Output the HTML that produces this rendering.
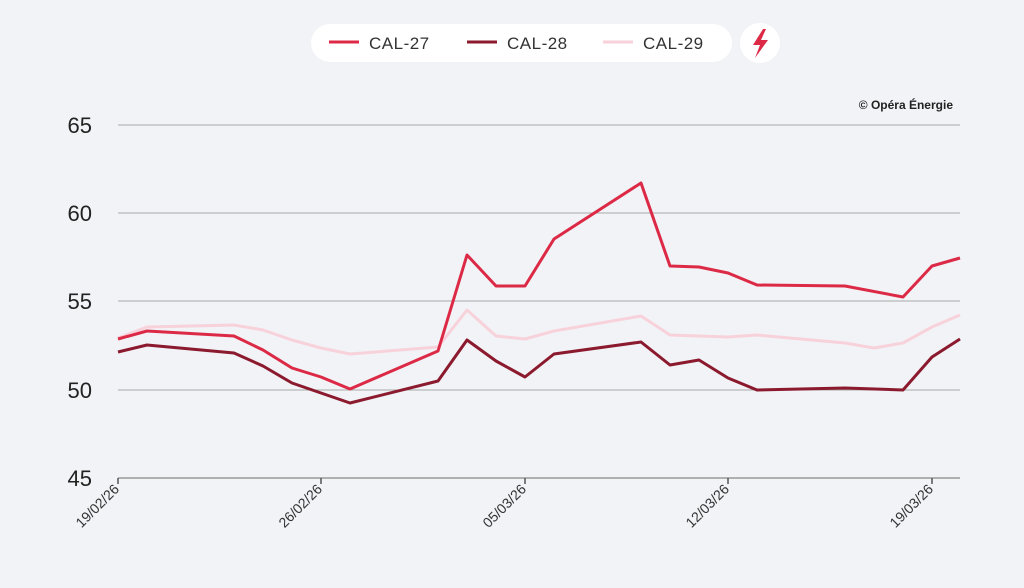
<!DOCTYPE html>
<html><head><meta charset="utf-8"><style>
body{margin:0;background:#f2f3f7;width:1024px;height:583px;overflow:hidden;font-family:"Liberation Sans",sans-serif}
</style></head><body>
<svg width="1024" height="583" xmlns="http://www.w3.org/2000/svg" font-family="Liberation Sans, sans-serif">
<rect width="1024" height="583" fill="#f2f3f7"/>
<rect x="311" y="24" width="421" height="38" rx="19" fill="#fff"/>
<line x1="329" y1="42" x2="359" y2="42" stroke="#dc2a46" stroke-width="3"/>
<text x="369" y="49" font-size="17" fill="#333" letter-spacing="0.5">CAL-27</text>
<line x1="467" y1="42" x2="497" y2="42" stroke="#8b1a2e" stroke-width="3"/>
<text x="507" y="49" font-size="17" fill="#333" letter-spacing="0.5">CAL-28</text>
<line x1="603" y1="42" x2="633" y2="42" stroke="#f8d2da" stroke-width="3"/>
<text x="643" y="49" font-size="17" fill="#333" letter-spacing="0.5">CAL-29</text>
<circle cx="760" cy="43" r="20" fill="#fff"/>
<path d="M763 29 L753 45 L760 45 L755 58 L768 40 L761 40 L766 29 Z" fill="#dc2a46"/>
<text x="953" y="109" font-size="12" font-weight="bold" fill="#222" text-anchor="end">© Opéra Énergie</text>
<g stroke="#a8a8a8" stroke-width="1">
<line x1="118" y1="125" x2="960" y2="125"/><line x1="118" y1="213" x2="960" y2="213"/>
<line x1="118" y1="301" x2="960" y2="301"/><line x1="118" y1="390" x2="960" y2="390"/>
</g>
<line x1="118" y1="478" x2="960" y2="478" stroke="#999" stroke-width="1.5"/>
<g stroke="#555" stroke-width="1.5">
<line x1="118" y1="478" x2="118" y2="484"/><line x1="321" y1="478" x2="321" y2="484"/>
<line x1="525" y1="478" x2="525" y2="484"/><line x1="728" y1="478" x2="728" y2="484"/>
<line x1="932" y1="478" x2="932" y2="484"/></g>
<g font-size="22" fill="#222" text-anchor="end">
<text x="92" y="133">65</text><text x="92" y="221">60</text><text x="92" y="309">55</text>
<text x="92" y="398">50</text><text x="92" y="486">45</text></g>
<g font-size="14" fill="#333" text-anchor="end">
<text transform="translate(120,490) rotate(-45)">19/02/26</text>
<text transform="translate(323,490) rotate(-45)">26/02/26</text>
<text transform="translate(527,490) rotate(-45)">05/03/26</text>
<text transform="translate(730,490) rotate(-45)">12/03/26</text>
<text transform="translate(934,490) rotate(-45)">19/03/26</text></g>
<g fill="none" stroke-width="3" stroke-linejoin="round">
<polyline stroke="#f8d2da" points="118,338 147,327 234,325 263,330 292,340 321,348 350,354 438,347 467,310 496,336 525,339 554,331 641,316 670,335 699,336 728,337 757,335 845,343 874,348 903,343 932,327 960,315"/>
<polyline stroke="#8b1a2e" points="118,352 147,345 234,353 263,366 292,383 321,393 350,403 438,381 467,340 496,361 525,377 554,354 641,342 670,365 699,360 728,378 757,390 845,388 903,390 932,357 960,339"/>
<polyline stroke="#dc2a46" points="118,339 147,331 234,336 263,350 292,368 321,377 350,389 438,351 467,255 496,286 525,286 554,239 641,183 670,266 699,267 728,273 757,285 845,286 903,297 932,266 960,258"/>
</g>
</svg>
</body></html>
